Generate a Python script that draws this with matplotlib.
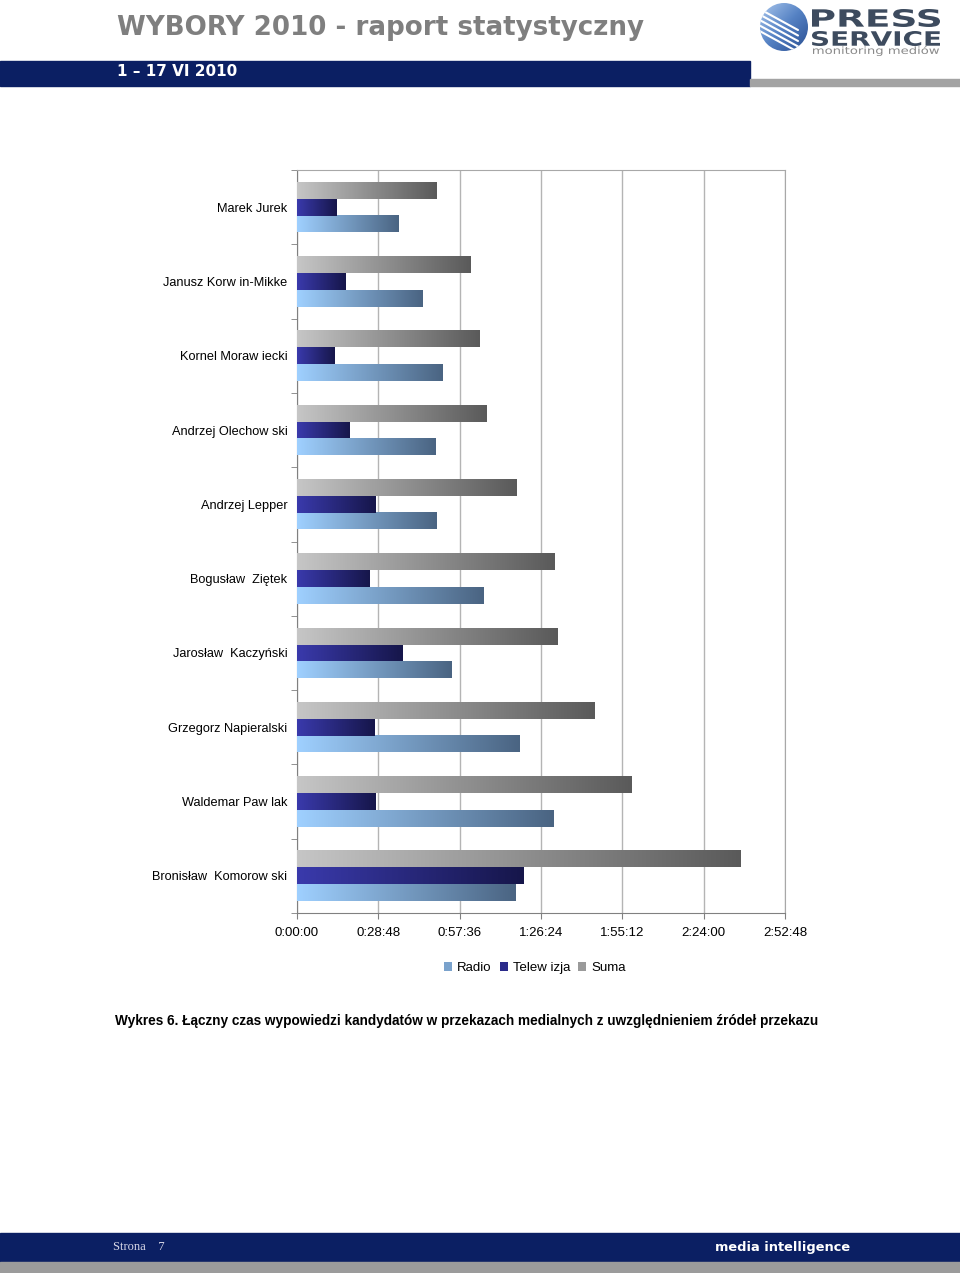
import numpy as np
import matplotlib
matplotlib.use("Agg")
import matplotlib.pyplot as plt
from matplotlib.colors import LinearSegmentedColormap
from matplotlib.patches import Patch, Circle, Rectangle, PathPatch
from matplotlib.textpath import TextPath
from matplotlib.font_manager import FontProperties
from matplotlib.transforms import Affine2D
from matplotlib.ticker import FuncFormatter, MultipleLocator

# -------------------------
# Data (czas wypowiedzi, h:mm:ss)
# -------------------------

candidates = ["Marek Jurek", "Janusz Korw in-Mikke", "Kornel Moraw iecki",
              "Andrzej Olechow ski", "Andrzej Lepper", "Bogusław  Ziętek",
              "Jarosław  Kaczyński", "Grzegorz Napieralski", "Waldemar Paw lak",
              "Bronisław  Komorow ski"]

radio = ["0:35:46", "0:44:16", "0:51:21", "0:48:52", "0:49:34",
         "1:05:52", "0:54:53", "1:18:37", "1:31:00", "1:17:12"]
telewizja = ["0:13:49", "0:17:21", "0:13:27", "0:18:46", "0:27:58",
             "0:25:30", "0:37:32", "0:27:16", "0:27:58", "1:20:02"]
suma = ["0:49:34", "1:01:16", "1:04:48", "1:06:56", "1:17:33",
        "1:31:21", "1:32:04", "1:45:31", "1:58:37", "2:37:13"]

series_names = ["Radio", "Telew izja", "Suma"]


def to_sec(s):
    h, m, sec = s.split(":")
    return int(h) * 3600 + int(m) * 60 + int(sec)


def fmt_time(x, pos):
    x = int(round(x))
    return "%d:%02d:%02d" % (x // 3600, (x % 3600) // 60, x % 60)


def fit_text(ax, s, x0, x1, ytop, ybot, color, weight="normal"):
    # text stretched into a box (page pixel coords, y down)
    prop = FontProperties(family="DejaVu Sans", weight=weight)
    tp = TextPath((0, 0), s, prop=prop, size=1)
    bb = tp.get_extents()
    sx = (x1 - x0) / bb.width
    sy = (ybot - ytop) / bb.height
    tr = Affine2D().translate(-bb.x0, -bb.y0).scale(sx, -sy).translate(x0, ybot)
    ax.add_patch(PathPatch(tr.transform_path(tp), color=color, lw=0))


# gradient colours (left, right)
grad_radio = ("#9fd0ff", "#4a6482")
grad_tv = ("#3a3aac", "#16164a")
grad_suma = ("#c6c6c6", "#5a5a5a")

plt.rcParams['font.family'] = ['Liberation Sans', 'DejaVu Sans']

fig = plt.figure(figsize=(9.6, 12.73), dpi=100)

# -------------------------
# Page decorations (pixel coordinates)
# -------------------------

bg = fig.add_axes([0, 0, 1, 1], zorder=0)
bg.set_xlim(0, 960)
bg.set_ylim(1273, 0)
bg.axis("off")

navy = "#0b1f63"
bg.add_patch(Rectangle((0, 61), 750, 25, color=navy))
bg.add_patch(Rectangle((750, 79), 210, 7, color="#a3a3a3"))
bg.text(117, 28, "WYBORY 2010 - raport statystyczny", fontsize=18.8, fontweight="bold",
        color="#7f7f7f", family="DejaVu Sans", va="center", ha="left")
bg.text(117, 72, "1 – 17 VI 2010", fontsize=11, fontweight="bold", color="white",
        family="DejaVu Sans", va="center", ha="left")

# logo
circ = Circle((784, 27), 24, color="none")
bg.add_patch(circ)
logo_cmap = LinearSegmentedColormap.from_list("logo", ["#a9c6ec", "#5582c4", "#2a4f92"])
gy, gx = np.mgrid[0:1:64j, 0:1:64j]
img = bg.imshow((gx + gy) / 2, cmap=logo_cmap, extent=[760, 808, 51, 3],
                aspect="auto", interpolation="bilinear")
img.set_clip_path(circ)
for k in range(5):
    ln, = bg.plot([756, 798], [7 + k * 5.5, 30 + k * 5.5], color="white",
                  lw=1.5, solid_capstyle="round")
    ln.set_clip_path(circ)
bg.set_xlim(0, 960)
bg.set_ylim(1273, 0)

fit_text(bg, "PRESS", 812, 940, 9, 27, "#3d4b5e", weight="bold")
fit_text(bg, "SERVICE", 812, 940, 31, 46, "#3d4b5e", weight="bold")
fit_text(bg, "monitoring mediów", 813, 939, 46, 56, "#8a8a8a")

# caption
bg.text(115, 1021, "Wykres 6. Łączny czas wypowiedzi kandydatów w przekazach medialnych "
        "z uwzględnieniem źródeł przekazu", fontsize=9.8, fontweight="bold",
        color="black", va="center", ha="left")

# footer
bg.add_patch(Rectangle((0, 1233), 960, 29, color=navy))
bg.add_patch(Rectangle((0, 1262), 960, 11, color="#9b9b9b"))
bg.text(113, 1247, "Strona    7", fontsize=9, color="#d8d8e8", family="Liberation Serif",
        va="center", ha="left")
bg.text(715, 1247, "media intelligence", fontsize=9.4, fontweight="bold", color="white",
        family="DejaVu Sans", va="center", ha="left")

# -------------------------
# Chart
# -------------------------

ax = fig.add_axes([297 / 960, 1 - 913 / 1273, 488 / 960, 743 / 1273], zorder=1)
ax.patch.set_alpha(0)

y = np.arange(len(candidates))
h = 0.225
series = [(radio, grad_radio, h), (telewizja, grad_tv, 0.0), (suma, grad_suma, -h)]

for values, colors, off in series:
    secs = [to_sec(v) for v in values]
    bars = ax.barh(y + off, secs, height=h, color="none", zorder=3)
    cmap = LinearSegmentedColormap.from_list("g", list(colors))
    for b in bars:
        x0, y0 = b.get_x(), b.get_y()
        w, hh = b.get_width(), b.get_height()
        ax.imshow(np.linspace(0, 1, 256).reshape(1, -1), cmap=cmap, aspect="auto",
                  extent=[x0, x0 + w, y0 + hh, y0], zorder=3, interpolation="bilinear")

ax.set_xlim(0, 10368)
ax.set_ylim(len(candidates) - 0.5, -0.5)
ax.xaxis.set_major_locator(MultipleLocator(1728))
ax.xaxis.set_major_formatter(FuncFormatter(fmt_time))
ax.grid(axis="x", color="#b4b4b4", lw=1.0, zorder=0)

ax.set_yticks(y)
ax.set_yticklabels(candidates)
ax.set_yticks(np.arange(len(candidates) + 1) - 0.5, minor=True)
ax.tick_params(axis="y", which="major", length=0, pad=7, labelsize=9.2)
ax.tick_params(axis="y", which="minor", length=4, color="#808080", direction="out")
ax.tick_params(axis="x", length=4, color="#808080", pad=6, labelsize=9.5)

for side in ["top", "right"]:
    ax.spines[side].set_color("#a8a8a8")
for side in ["left", "bottom"]:
    ax.spines[side].set_color("#808080")

handles = [Patch(facecolor="#7aa2cc", label=series_names[0]),
           Patch(facecolor="#2a2a8a", label=series_names[1]),
           Patch(facecolor="#9a9a9a", label=series_names[2])]
fig.legend(handles=handles, loc="center", bbox_to_anchor=(535 / 960, 1 - 968 / 1273),
           ncol=3, frameon=False, fontsize=9.5, handlelength=0.6, handleheight=0.6,
           handletextpad=0.4, columnspacing=0.6)

fig.savefig("out.png", dpi=100)
